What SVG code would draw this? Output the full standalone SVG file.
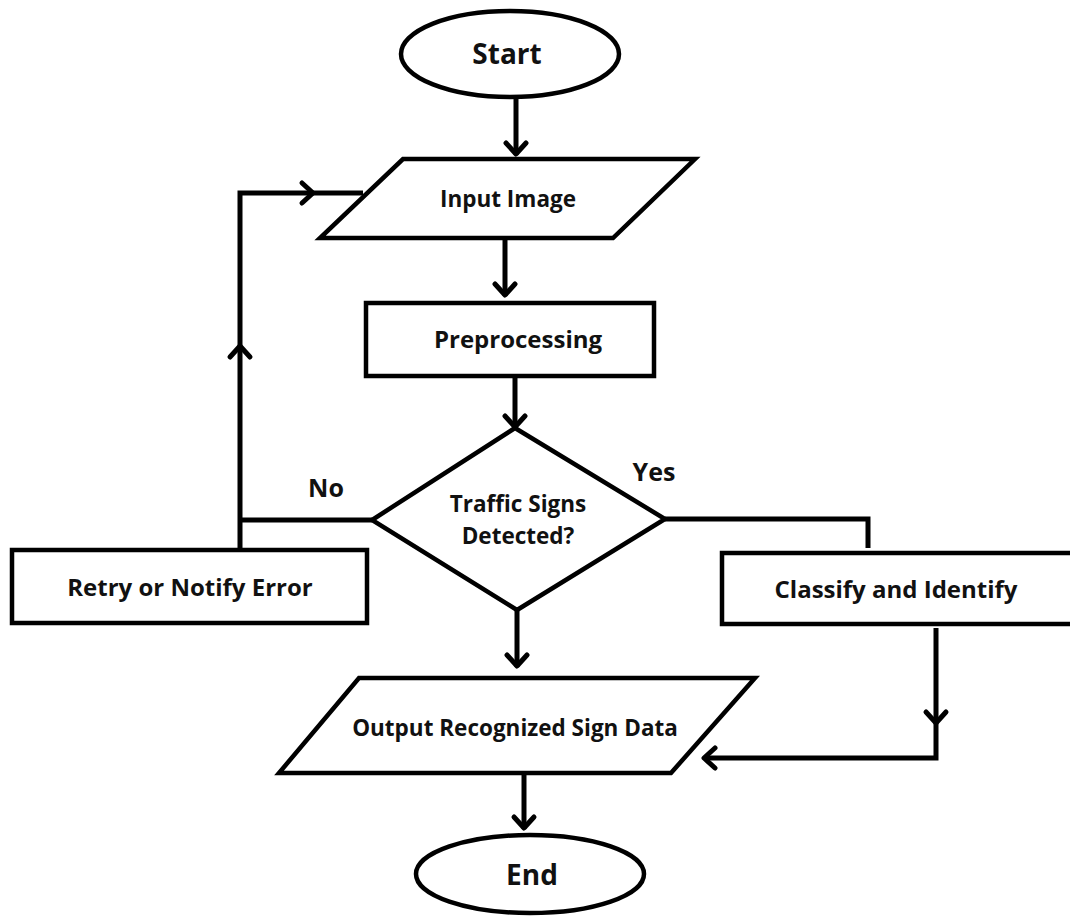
<svg xmlns="http://www.w3.org/2000/svg" width="1070" height="919" viewBox="0 0 1070 919">
  <defs>
    <style>
      .shape { fill: #ffffff; stroke: #000000; stroke-width: 4.5; stroke-linejoin: miter; }
      .line { fill: none; stroke: #000000; stroke-width: 5; stroke-linejoin: miter; }
      .head { fill: none; stroke: #000000; stroke-width: 5; stroke-linecap: round; stroke-linejoin: round; }
      .label { font-family: "Open Sans", "Liberation Sans", sans-serif; font-weight: 700; fill: #111111; text-anchor: middle; }
      .term { font-size: 28px; }
      .box { font-size: 22.5px; }
      .wide { font-size: 24px; }
      .branch { font-size: 25px; }
    </style>
  </defs>
  <rect width="1070" height="919" fill="#ffffff"/>

  <!-- connectors -->
  <g id="connectors">
    <!-- Start -> Input Image -->
    <line class="line" x1="516" y1="98" x2="516" y2="155"/>
    <polyline class="head" points="506,143 516,154 526,143"/>
    <!-- Input Image -> Preprocessing -->
    <line class="line" x1="505" y1="238" x2="505" y2="296"/>
    <polyline class="head" points="495,284 505,295 515,284"/>
    <!-- Preprocessing -> Decision -->
    <line class="line" x1="515" y1="376" x2="515" y2="428"/>
    <polyline class="head" points="505,416 515,427 525,416"/>
    <!-- No branch: back up to Input Image -->
    <polyline class="line" points="372,520 240,520"/>
    <polyline class="line" points="240,548 240,193 363,193"/>
    <polyline class="head" points="230,357 240,346 250,357"/>
    <polyline class="head" points="302,183 313,193 302,203"/>
    <!-- Yes branch: to Classify and Identify -->
    <polyline class="line" points="665,519 868,519 868,548"/>
    <!-- Decision -> Output -->
    <line class="line" x1="517" y1="610" x2="517" y2="667"/>
    <polyline class="head" points="507,655 517,666 527,655"/>
    <!-- Classify and Identify -> Output -->
    <polyline class="line" points="936,628 936,758 705,758"/>
    <polyline class="head" points="926,712 936,723 946,712"/>
    <polyline class="head" points="715,748 704,758 715,768"/>
    <!-- Output -> End -->
    <line class="line" x1="524" y1="773" x2="524" y2="829"/>
    <polyline class="head" points="514,817 524,828 534,817"/>
  </g>

  <g id="start">
    <ellipse class="shape" cx="510" cy="54" rx="109" ry="43"/>
    <text class="label term" x="507" y="64">Start</text>
  </g>

  <g id="input-image">
    <polygon class="shape" points="403,159 695,159 613,238 320,238"/>
    <text class="label box" x="508" y="207">Input Image</text>
  </g>

  <g id="preprocessing">
    <rect class="shape" x="366" y="303" width="288" height="73"/>
    <text class="label wide" x="518" y="348">Preprocessing</text>
  </g>

  <g id="decision">
    <polygon class="shape" points="515,428 665,519 517,610 372,520"/>
    <text class="label box" x="518" y="512">Traffic Signs</text>
    <text class="label box" x="518" y="544">Detected?</text>
  </g>

  <g id="label-no">
    <text class="label branch" x="326" y="497">No</text>
  </g>

  <g id="label-yes">
    <text class="label branch" x="654" y="481">Yes</text>
  </g>

  <g id="retry">
    <rect class="shape" x="12" y="550" width="355" height="73"/>
    <text class="label wide" x="190" y="596">Retry or Notify Error</text>
  </g>

  <g id="classify">
    <rect class="shape" x="722" y="553" width="352" height="71"/>
    <text class="label wide" x="896" y="598">Classify and Identify</text>
  </g>

  <g id="output">
    <polygon class="shape" points="359,678 755,678 671,773 279,773"/>
    <text class="label box" x="515" y="736">Output Recognized Sign Data</text>
  </g>

  <g id="end">
    <ellipse class="shape" cx="530" cy="874" rx="114" ry="39"/>
    <text class="label term" x="532" y="885">End</text>
  </g>
</svg>
